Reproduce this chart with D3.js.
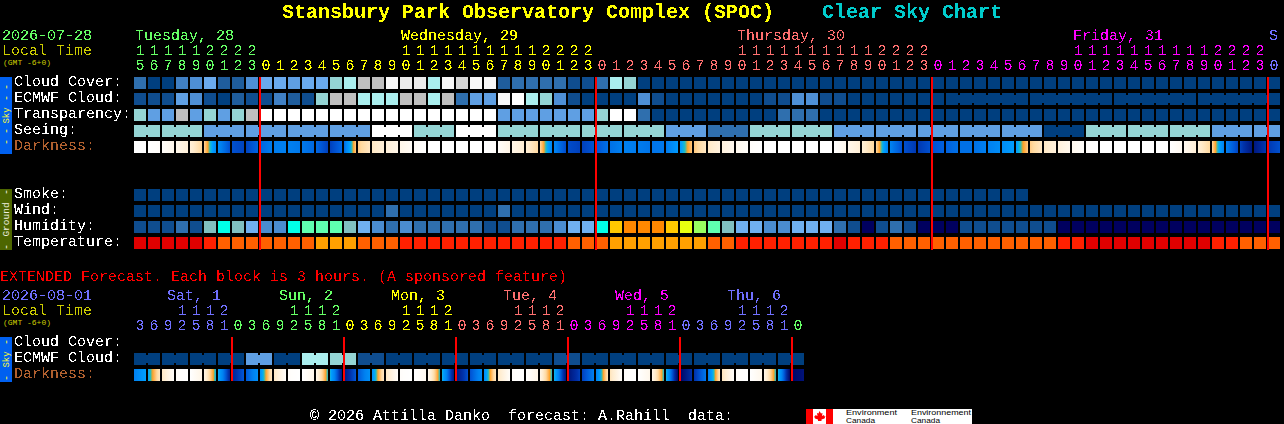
<!DOCTYPE html>
<html>
<head>
<meta charset="utf-8">
<title>Stansbury Park Observatory Complex (SPOC) Clear Sky Chart</title>
<script src="https://cdn.jsdelivr.net/npm/d3@7"></script>
<style>
  html, body { margin: 0; padding: 0; background: #000; overflow: hidden; }
  svg { display: block; }
  text { font-family: "Liberation Mono", "DejaVu Sans Mono", monospace; white-space: pre; }
</style>
</head>
<body>
<svg id="chart" width="1284" height="424"></svg>
<script>
// Hour of each column
const hours = [15,16,17,18,19,20,21,22,23,
  0,1,2,3,4,5,6,7,8,9,10,11,12,13,14,15,16,17,18,19,20,21,22,23,
  0,1,2,3,4,5,6,7,8,9,10,11,12,13,14,15,16,17,18,19,20,21,22,23,
  0,1,2,3,4,5,6,7,8,9,10,11,12,13,14,15,16,17,18,19,20,21,22,23,
  0];
const extHours = [3,6,9,12,15,18,21,
  0,3,6,9,12,15,18,21,
  0,3,6,9,12,15,18,21,
  0,3,6,9,12,15,18,21,
  0,3,6,9,12,15,18,21,
  0,3,6,9,12,15,18,21,
  0];

const dayLabels = ["Tuesday, 28", "Wednesday, 29", "Thursday, 30", "Friday, 31", "S"];
const dayCols = [0, 19, 43, 67, 81];
const extDayLabels = ["Sat, 1", "Sun, 2", "Mon, 3", "Tue, 4", "Wed, 5", "Thu, 6"];
const extDayCols = [2, 10, 18, 26, 34, 42];

// Sky rows, as level index into cloudColors
const cloudCover = [3,0,0,4,5,7,2,2,5,7,
  7,6,7,7,8,9,10,10,13,12,
  12,9,13,11,13,13,2,3,3,3,
  3,1,1,3,9,8,0,0,0,0,
  0,0,0,0,0,0,0,0,0,0,
  0,0,0,0,0,0,0,0,0,0,
  0,0,0,0,0,0,0,0,0,0,
  0,0,0,0,0,0,0,0,0,0,
  0,0];
const ecmwfCloud = [1,1,1,6,5,1,0,2,1,1,
  4,2,1,8,10,10,9,9,9,10,
  10,9,10,3,6,6,13,14,9,8,
  5,1,0,0,0,0,5,1,0,0,
  0,0,0,0,0,1,1,5,5,1,
  1,0,0,0,0,0,0,0,0,0,
  0,0,0,0,0,0,0,0,0,0,
  0,0,0,0,0,0,0,0,0,0,
  0,0];
const transparency = [8,6,6,10,6,8,6,8,10,14,
  14,14,14,14,14,14,14,14,14,14,
  14,14,14,14,14,14,6,6,6,6,
  6,6,6,8,14,14,3,0,0,0,
  0,0,0,0,0,0,3,3,3,0,
  0,0,0,0,0,0,0,0,0,0,
  0,0,0,0,0,0,0,0,0,0,
  0,0,0,0,0,0,0,0,0,0,
  0,0];
const seeing = [8,8,8,8,8,6,6,6,6,6,
  6,6,6,6,6,6,6,14,14,14,
  8,8,8,14,14,14,8,8,8,8,
  8,8,8,8,8,8,8,8,6,6,
  6,3,3,3,8,8,8,8,8,8,
  6,6,6,6,6,6,6,6,6,6,
  6,6,6,6,6,0,0,0,8,8,
  8,8,8,8,8,8,8,6,6,6,
  6,6];
// Limiting magnitude at the edges of each darkness block
const darkness = [-4,-4,-3.8,-3.2,-2.5,-0.9,2.6,4.2,4.5,3.7,
  3.1,3.0,3.2,3.6,4.6,3.6,-0.7,-1.8,-2.5,-3.1,
  -3.6,-4,-4,-4,-4,-4,-3.8,-3.0,-2.3,-1.0,
  2.8,4.3,4.6,4.1,3.4,3.0,3.1,3.3,3.2,1.8,
  -0.6,-1.8,-2.7,-3.3,-3.8,-4,-4,-4,-4,-4,
  -4,-3.2,-2.4,-1.0,2.9,4.2,4.8,4.2,3.8,3.4,
  3.4,3.0,2.4,1.7,-0.7,-1.8,-2.6,-3.3,-3.8,-4,
  -4,-4,-4,-4,-4,-3.4,-2.4,-1.0,3.0,4.5,
  6,4.8,4.2];

// Ground rows
const smoke = [0,0,0,0,0,0,0,0,0,0,
  0,0,0,0,0,0,0,0,0,0,
  0,0,0,0,0,0,0,0,0,0,
  0,0,0,0,0,0,0,0,0,0,
  0,0,0,0,0,0,0,0,0,0,
  0,0,0,0,0,0,0,0,0,0,
  0,0,0,0];
const wind = [0,0,0,0,0,0,0,0,0,0,
  0,0,0,0,0,0,0,0,3,0,
  0,0,0,0,0,0,3,0,0,0,
  0,0,0,0,0,0,0,0,0,0,
  0,0,0,0,0,0,0,0,0,0,
  0,0,0,0,0,0,0,0,0,0,
  0,0,0,0,0,0,0,0,0,0,
  0,0,0,0,0,0,0,0,0,0,
  0,0];
const humidity = [1,1,1,2,1,5,6,5,4,3,
  3,6,7,7,7,5,4,3,2,3,
  2,2,2,2,2,1,1,2,2,2,
  3,4,4,6,10,11,11,11,10,9,
  8,7,5,4,4,3,3,4,4,4,
  2,1,0,1,2,1,0,0,0,1,
  1,1,1,1,1,1,0,0,0,0,
  0,0,0,0,0,0,0,0,0,0,
  0,0];
const temperature = [0,0,0,0,0,1,2,2,2,2,
  2,2,2,3,3,3,2,2,2,1,
  1,1,1,1,1,1,1,1,1,1,
  1,2,2,2,3,3,3,3,3,3,
  3,2,2,1,1,1,1,1,1,1,
  0,1,1,1,2,2,2,2,2,2,
  2,2,2,2,2,2,1,1,0,0,
  0,0,0,0,0,0,0,1,1,2,
  2,2];

// Extended forecast, 3 hour blocks
const extCloud = [0,0,0,0,0,0,0,0,6,6,
  0,0,9,9,8,8,1,1,0,0,
  0,0,0,0,0,0,0,0,0,0,
  1,1,0,0,0,0,0,0,0,0,
  0,0,0,0,0,0,0,0];
const extDarkness = [3,1.5,-1.8,-3.8,-4,-3,1.2,5.5,4,2.2,
  -1.8,-3.8,-4,-3.2,1,6,4,2.2,-1.8,-3.8,
  -4,-3.4,1,6,4.2,2.4,-1.8,-3.8,-4,-3,
  1,6.2,4.6,3,-1.6,-3.8,-4,-3.2,1,6.8,
  5,3.2,-1.6,-3.8,-4,-3.2,1,6.8,6.2];

const cloudColors = ["#003f7f","#0f4d8f","#1f5d9c","#2f6fae","#4080c4","#4e8fd5","#5f9fe3","#6aaaee",
  "#94d4d4","#aaeeee","#bfbfbf","#d6d6d6","#ebebeb","#f7f7f7","#ffffff"];
const humidityColors = ["#00005f","#0f4d8f","#2f6fae","#4a8cd0","#70b0f0","#80c0c0",
  "#00ffe8","#5fffb0","#98ff60","#e8ff10","#ffc800","#ff8800"];
const temperatureColors = ["#e00000","#ff2000","#ff6000","#ffa000"];
const dayColors = ["#66ff66","#ffff00","#ff7070","#ff00ff","#7070ff"];
const extDayColors = ["#7070ff","#66ff66","#ffff00","#ff7070","#ff00ff","#7070ff","#66ff66"];

const svg = d3.select("#chart");
const defs = svg.append("defs");
const filter = defs.append("filter")
  .attr("id", "hard")
  .attr("filterUnits", "userSpaceOnUse")
  .attr("x", 0).attr("y", 0).attr("width", 1284).attr("height", 424)
  .attr("color-interpolation-filters", "sRGB");
const transfer = filter.append("feComponentTransfer");
transfer.append("feFuncA").attr("type", "discrete").attr("tableValues", "0 0 0 0 0 1 1 1 1 1");

svg.append("rect").attr("width", 1284).attr("height", 424).attr("fill", "#000");

// Scales
const blockSize = 12;
const x = d3.scaleLinear().domain([0, 82]).range([134, 134 + 82 * 14]);
const extX = d3.scaleLinear().domain([0, 48]).range([134, 134 + 48 * 14]);
const cloudColor = d3.scaleOrdinal(d3.range(cloudColors.length), cloudColors);
const humidityColor = d3.scaleOrdinal(d3.range(humidityColors.length), humidityColors);
const temperatureColor = d3.scaleOrdinal(d3.range(temperatureColors.length), temperatureColors);
const darkColor = d3.scaleLinear()
  .domain([-4, -3, -2, -1, -0.3, 0.3, 0.8, 1.5, 3, 4, 5, 6, 7])
  .range(["#ffffff","#fff5e6","#ffebcc","#ffd9a0","#ffb860","#ffa020","#20c0c0","#00a0ff",
    "#0080f0","#0058d8","#0030a8","#001880","#000060"])
  .clamp(true);

const marks = svg.append("g").attr("shape-rendering", "crispEdges");
const labels = svg.append("g").attr("filter", "url(#hard)");
const smallLabels = svg.append("g");

// One row of blocks, joinAt tells if a column is linked to the next one
function drawRow(xScale, values, top, color, joinAt) {
  const row = marks.append("g");
  row.selectAll("rect.block")
    .data(values)
    .join("rect")
    .attr("class", "block")
    .attr("x", (d, i) => xScale(i))
    .attr("y", top)
    .attr("width", blockSize)
    .attr("height", blockSize)
    .attr("fill", d => color(d));
  if (joinAt) {
    const links = d3.range(values.length - 1).filter(joinAt);
    row.selectAll("rect.link")
      .data(links)
      .join("rect")
      .attr("class", "link")
      .attr("x", i => xScale(i) + blockSize)
      .attr("y", top + 2)
      .attr("width", 2)
      .attr("height", blockSize - 4)
      .attr("fill", i => color(values[i]));
  }
}

function drawDarkness(xScale, edges, top, prefix) {
  const cells = d3.range(edges.length - 1);
  cells.forEach(i => {
    const grad = defs.append("linearGradient").attr("id", prefix + i);
    d3.range(0, 1.01, 0.1).forEach(t => {
      grad.append("stop")
        .attr("offset", t)
        .attr("stop-color", darkColor(edges[i] + (edges[i + 1] - edges[i]) * t));
    });
  });
  marks.append("g").selectAll("rect")
    .data(cells)
    .join("rect")
    .attr("x", i => xScale(i))
    .attr("y", top)
    .attr("width", blockSize)
    .attr("height", blockSize)
    .attr("fill", i => "url(#" + prefix + i + ")");
}

drawRow(x, cloudCover, 77, cloudColor);
drawRow(x, ecmwfCloud, 93, cloudColor, i => i >= 58 && (i - 58) % 6 !== 5);
drawRow(x, transparency, 109, cloudColor);
drawRow(x, seeing, 125, cloudColor, i => i % 3 !== 1);
drawDarkness(x, darkness, 141, "dark");

drawRow(x, smoke, 189, cloudColor);
drawRow(x, wind, 205, cloudColor);
drawRow(x, humidity, 221, humidityColor);
drawRow(x, temperature, 237, temperatureColor);

drawRow(extX, extCloud, 353, cloudColor, i => i % 2 === 0);
drawDarkness(extX, extDarkness, 369, "ext");

// Midnight lines
function drawMidnight(xScale, hourList, y0, y1) {
  marks.append("g").selectAll("rect")
    .data(d3.range(hourList.length).filter(i => hourList[i] === 0))
    .join("rect")
    .attr("x", i => xScale(i) - 1)
    .attr("y", y0)
    .attr("width", 2)
    .attr("height", y1 - y0)
    .attr("fill", "#ff0000");
}
drawMidnight(x, hours, 77, 250);
drawMidnight(extX, extHours, 337, 381);

// Text helper
function label(str, px, py, size, color, weight) {
  return labels.append("text")
    .attr("x", px).attr("y", py)
    .attr("font-size", size)
    .attr("font-weight", weight || "normal")
    .attr("fill", color)
    .text(str);
}
function smallLabel(str, px, py, size, color) {
  return smallLabels.append("text")
    .attr("x", px).attr("y", py)
    .attr("font-size", size)
    .attr("fill", color)
    .text(str);
}

// Hour digits, tens above the units, coloured by day
function drawHours(xScale, hourList, tensY, unitsY, palette) {
  let day = 0;
  hourList.forEach((h, i) => {
    if (h === 0 && i > 0) day++;
    const cx = xScale(i) + blockSize / 2;
    if (h >= 10) label(String(Math.floor(h / 10)), cx, tensY, 15, palette[day]).attr("text-anchor", "middle");
    label(String(h % 10), cx, unitsY, 15, palette[day]).attr("text-anchor", "middle");
  });
}

label("Stansbury Park Observatory Complex (SPOC)", 282, 18, 20, "#ffff00", "bold");
label("Clear Sky Chart", 822, 18, 20, "#00cccc", "bold");

label("2026-07-28", 2, 40, 15, "#66ff66");
label("Local Time", 2, 55, 15, "#cccc00");
smallLabel("(GMT -6+0)", 3, 65, 8, "#cccc00");
dayLabels.forEach((d, i) => label(d, x(dayCols[i]) + 1, 40, 15, dayColors[i]));
drawHours(x, hours, 55, 70, dayColors);

const skyNames = ["Cloud Cover:", "ECMWF Cloud:", "Transparency:", "Seeing:"];
skyNames.forEach((d, i) => label(d, 14, 86 + i * 16, 15, "#ffffff"));
label("Darkness:", 14, 150, 15, "#b0602f");
const groundNames = ["Smoke:", "Wind:", "Humidity:", "Temperature:"];
groundNames.forEach((d, i) => label(d, 14, 198 + i * 16, 15, "#ffffff"));

label("EXTENDED Forecast. Each block is 3 hours. (A sponsored feature)", 0, 281, 15, "#ff0000");
label("2026-08-01", 2, 300, 15, "#7070ff");
label("Local Time", 2, 315, 15, "#cccc00");
smallLabel("(GMT -6+0)", 3, 325, 8, "#cccc00");
extDayLabels.forEach((d, i) => label(d, extX(extDayCols[i]) + 5, 300, 15, extDayColors[i]));
drawHours(extX, extHours, 315, 330, extDayColors);

label("Cloud Cover:", 14, 346, 15, "#ffffff");
label("ECMWF Cloud:", 14, 362, 15, "#ffffff");
label("Darkness:", 14, 378, 15, "#b0602f");

// Side bars with rotated captions
function sideBar(y0, y1, fill, textColor, name, size, dashes) {
  marks.append("rect").attr("x", 0).attr("y", y0).attr("width", 12).attr("height", y1 - y0).attr("fill", fill);
  const mid = (y0 + y1) / 2;
  const put = (str, cy, fs) => smallLabel(str, 0, 0, fs, textColor)
    .attr("text-anchor", "middle")
    .attr("transform", "translate(9," + cy + ") rotate(-90)");
  put(name, mid, size);
  dashes.forEach(cy => put("-", cy.y, 10));
}
sideBar(77, 154, "#0060f0", "#ffff30", "Sky", 9, [{y: 87}, {y: 98}, {y: 131}, {y: 142}]);
sideBar(189, 250, "#4d6600", "#f0f0e0", "Ground", 9.5, [{y: 192}, {y: 247}]);
sideBar(337, 382, "#0060f0", "#ffff30", "Sky", 9, [{y: 342}, {y: 378}]);

// Footer
label("\u00a9 2026 Attilla Danko  forecast: A.Rahill  data:", 310, 420, 15, "#ffffff");

// Environment Canada wordmark
const logo = svg.append("g");
logo.append("rect").attr("x", 806).attr("y", 409).attr("width", 166).attr("height", 15).attr("fill", "#fff");
logo.append("rect").attr("x", 806).attr("y", 409).attr("width", 7).attr("height", 15).attr("fill", "#ff0000");
logo.append("rect").attr("x", 826).attr("y", 409).attr("width", 7).attr("height", 15).attr("fill", "#ff0000");
logo.append("path")
  .attr("d", "M819.5 411l1.5 2.5 1.5-.5-.5 3 2-1 .5 1.5 1-.5-1 2.5-3 1v1.5h-3.5v-1.5l-3-1-1-2.5 1 .5.5-1.5 2 1-.5-3 1.5.5z")
  .attr("fill", "#ff0000");
const logoText = (str, px, py, w) => logo.append("text")
  .attr("x", px).attr("y", py)
  .attr("font-size", 8)
  .attr("textLength", w)
  .attr("lengthAdjust", "spacingAndGlyphs")
  .attr("fill", "#000")
  .style("font-family", "'Liberation Sans', sans-serif")
  .text(str);
logoText("Environment", 846, 415, 51);
logoText("Canada", 846, 423, 29);
logoText("Environnement", 911, 415, 60);
logoText("Canada", 911, 423, 29);
</script>
</body>
</html>
